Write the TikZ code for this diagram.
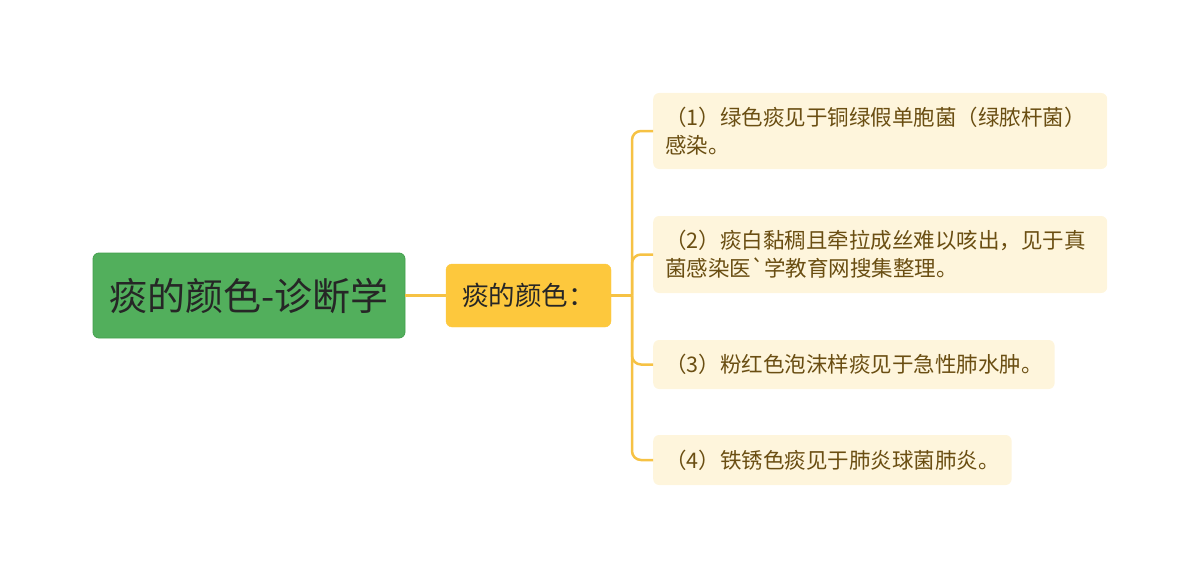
\documentclass[tikz,border=0pt]{standalone}
\usepackage{fontspec}
\setmainfont{Noto Sans CJK SC}[Ligatures=TeXOff]
\usepackage{tikz}
\usetikzlibrary{positioning,calc}
\definecolor{rootgreen}{HTML}{52AF5C}
\definecolor{rootedge}{HTML}{43A04D}
\definecolor{midyellow}{HTML}{FDC83D}
\definecolor{leafcream}{HTML}{FEF5DC}
\definecolor{linkyellow}{HTML}{F6C244}
\definecolor{leaftext}{HTML}{6A4E12}

\begin{document}
\begin{tikzpicture}[
  x=1pt, y=-1pt,
  rootbox/.style={draw=rootedge, fill=rootgreen, rounded corners=6pt, thick,
    minimum width=312pt, minimum height=85pt, text=black!85,
    font=\fontsize{38}{44}\selectfont},
  midbox/.style={draw=midyellow, fill=midyellow, rounded corners=6pt,
    minimum width=165pt, minimum height=63pt, text=black!85,
    font=\fontsize{26.5}{32}\selectfont},
  leaf/.style={fill=leafcream, rounded corners=6pt, anchor=west, align=left,
    inner xsep=12pt, inner ysep=10pt, text=leaftext,
    font=\fontsize{21.5}{28}\selectfont},
  link/.style={draw=linkyellow, line width=2.5pt}
]
  \useasboundingbox (0,0) rectangle (1200,578);

  % Root and first level
  \node[rootbox] (root) at (249,295.5) {痰的颜色-诊断学};
  \node[midbox] (mid) at (528.5,295.5) {痰的颜色：};
  \coordinate (trunk) at (632,295.5);

  % Leaves
  \node[leaf, minimum width=454pt, minimum height=76pt, text width=430pt]
    (l1) at (653,131) {（1）绿色痰见于铜绿假单胞菌（绿脓杆菌）\\感染。};
  \node[leaf, minimum width=454pt, minimum height=77pt, text width=430pt]
    (l2) at (653,254.5) {（2）痰白黏稠且牵拉成丝难以咳出，见于真\\菌感染医`学教育网搜集整理。};
  \node[leaf, minimum height=49pt] (l3) at (653,364.5) {（3）粉红色泡沫样痰见于急性肺水肿。};
  \node[leaf, minimum height=50pt] (l4) at (653,460) {（4）铁锈色痰见于肺炎球菌肺炎。};

  % Connectors
  \draw[link] (root.east) -- (mid.west);
  \draw[link] (mid.east) -- (trunk);
  \foreach \leafname in {l1,l2,l3,l4}
    \draw[link, rounded corners=9pt] (trunk) |- (\leafname.west);
\end{tikzpicture}
\end{document}
